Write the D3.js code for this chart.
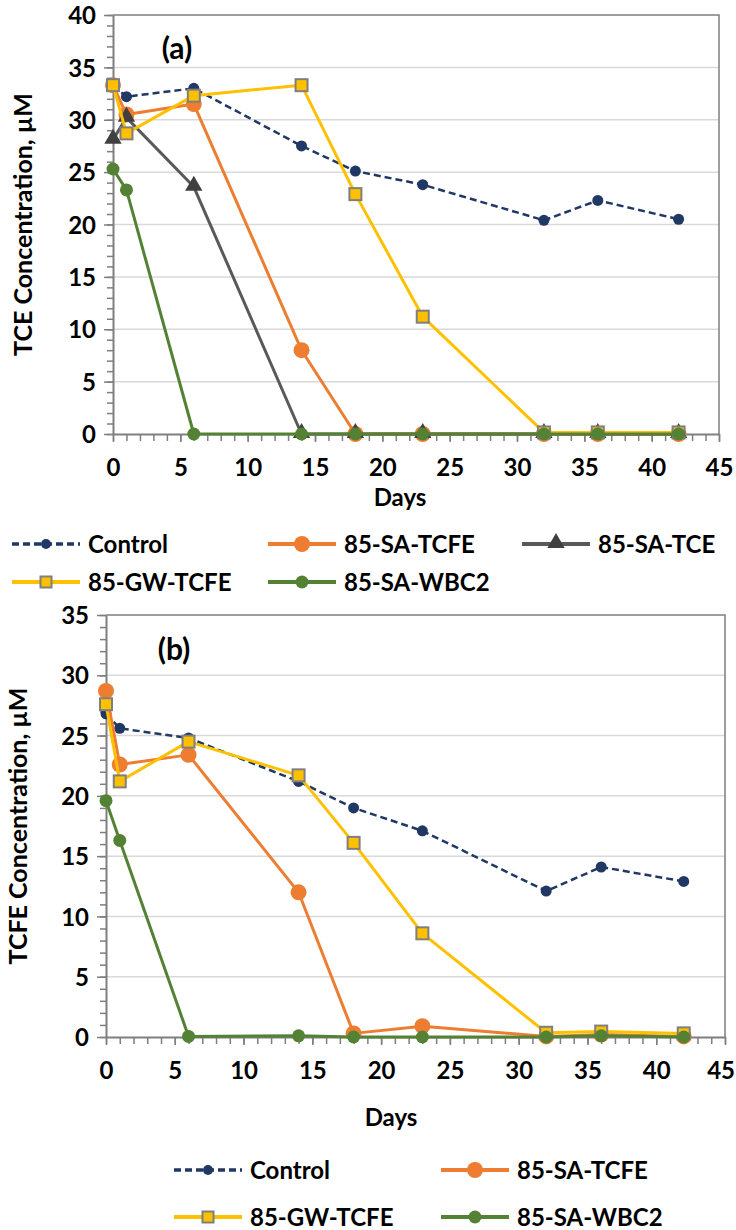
<!DOCTYPE html>
<html>
<head>
<meta charset="utf-8">
<script src="https://cdn.jsdelivr.net/npm/d3@7"></script>
<style>
	body{margin:0;background:#fff}
	svg text{font-family:Lato,"DejaVu Sans",sans-serif;font-weight:bold;fill:#000}
</style>
</head>
<body>
<svg id="chart" width="736" height="1230"></svg>
<script>

// sampling days
let days = [0,1,6,14,18,23,32,36,42]

// (a) TCE concentration, uM
let tceControl = [33.3,32.2,33.0,27.5,25.1,23.8,20.4,22.3,20.5]
let tceSaTcfe = [33.3,30.5,31.5,8.0,0,0,0,0,0]
let tceSaTce = [28.1,30.2,23.6,0,0,0,0,0,0]
let tceGwTcfe = [33.3,28.7,32.3,33.3,22.9,11.2,0.15,0.15,0.15]
let tceWbc2 = [25.3,23.3,0,0,0,0,0,0,0]

// (b) TCFE concentration, uM
let tcfeControl = [26.8,25.6,24.8,21.2,19.0,17.1,12.1,14.1,12.9]
let tcfeSaTcfe = [28.7,22.6,23.4,12.0,0.3,0.9,0.05,0.2,0.05]
let tcfeGwTcfe = [27.6,21.2,24.5,21.7,16.1,8.6,0.35,0.45,0.3]
let tcfeWbc2 = [19.6,16.3,0.05,0.1,0,0,0,0.1,0]

let xTicks = [0,5,10,15,20,25,30,35,40,45]
let yTicksA = [0,5,10,15,20,25,30,35,40]
let yTicksB = [0,5,10,15,20,25,30,35]

// series styles
let styles = {
	'Control':{'colour':'#203864','width':2.5,'dash':'7,4','marker':'circle','r':5.5,'fill':'#203864','stroke':'none'},
	'85-SA-TCFE':{'colour':'#ED7D31','width':3,'dash':null,'marker':'circle','r':8,'fill':'#ED7D31','stroke':'none'},
	'85-SA-TCE':{'colour':'#595959','width':3,'dash':null,'marker':'triangle','r':9,'fill':'#404040','stroke':'none'},
	'85-GW-TCFE':{'colour':'#FFC000','width':3,'dash':null,'marker':'square','r':6,'fill':'#FFC000','stroke':'#7f7f7f'},
	'85-SA-WBC2':{'colour':'#548235','width':3,'dash':null,'marker':'circle','r':6.5,'fill':'#548235','stroke':'none'}
}

let svg = d3.select('#chart')

function drawMarker(g,style,x,y,legend){
	let r = style.r
	if(style.marker=='circle'){
		g.append('circle').attr('cx',x).attr('cy',y).attr('r',legend && r<6 ? 5 : r)
			.attr('fill',style.fill)
	}
	if(style.marker=='triangle'){
		g.append('path')
			.attr('d',d3.symbol().type(d3.symbolTriangle).size(130)())
			.attr('transform','translate('+x+','+(y-1)+')')
			.attr('fill',style.fill)
	}
	if(style.marker=='square'){
		let s = legend ? 11 : 12
		g.append('rect').attr('x',x-s/2).attr('y',y-s/2).attr('width',s).attr('height',s)
			.attr('fill',style.fill).attr('stroke',style.stroke).attr('stroke-width',2)
	}
}

function drawPanel(p){
	let g = svg.append('g')
	let x = d3.scaleLinear().domain([0,45]).range([p.left,p.right])
	let y = d3.scaleLinear().domain([0,p.yMax]).range([p.bottom,p.top])

	// gridlines
	g.selectAll('.grid').data(p.yTicks.filter(function(t){return t>0 && t<p.yMax})).enter()
		.append('line')
		.attr('x1',p.left).attr('x2',p.right)
		.attr('y1',function(d){return y(d)}).attr('y2',function(d){return y(d)})
		.attr('stroke','#d9d9d9').attr('stroke-width',1.5)

	// plot border top/right
	g.append('path')
		.attr('d','M'+p.left+','+p.top+'H'+p.right+'V'+p.bottom)
		.attr('fill','none').attr('stroke','#7f7f7f').attr('stroke-width',1.5)

	// y axis with minor ticks
	let yMinor = d3.range(0,p.yMax+1)
	g.append('g').attr('transform','translate('+p.left+',0)')
		.call(d3.axisLeft(y).tickValues(yMinor).tickSize(6).tickFormat(''))
		.call(function(a){a.select('.domain').remove()})
		.selectAll('line').attr('stroke','#7f7f7f').attr('stroke-width',1.5)
	let ya = g.append('g').attr('transform','translate('+p.left+',0)')
		.call(d3.axisLeft(y).tickValues(p.yTicks).tickSize(9).tickPadding(8).tickSizeOuter(0))
	ya.select('.domain').attr('stroke','#7f7f7f').attr('stroke-width',2)
	ya.selectAll('line').attr('stroke','#7f7f7f').attr('stroke-width',1.5)
	ya.selectAll('text').attr('font-size',24).attr('dy','0.36em').style('font-family','Lato')

	// x axis with minor ticks
	g.append('g').attr('transform','translate(0,'+p.bottom+')')
		.call(d3.axisBottom(x).tickValues(d3.range(0,46)).tickSize(7).tickFormat(''))
		.call(function(a){a.select('.domain').remove()})
		.selectAll('line').attr('stroke','#7f7f7f').attr('stroke-width',1.5)
	let xa = g.append('g').attr('transform','translate(0,'+p.bottom+')')
		.call(d3.axisBottom(x).tickValues(xTicks).tickSize(8).tickPadding(p.xPad).tickSizeOuter(0))
	xa.select('.domain').attr('stroke','#7f7f7f').attr('stroke-width',2)
	xa.selectAll('line').attr('stroke','#7f7f7f').attr('stroke-width',1.5)
	xa.selectAll('text').attr('font-size',24).style('font-family','Lato')
	// keep the last label inside the page
	xa.selectAll('text').each(function(){
		let b = this.getBBox()
		let tx = d3.select(this.parentNode).attr('transform')
		let px = parseFloat(tx.split('(')[1])
		let over = px + b.x + b.width - 735
		if(over>0){d3.select(this).attr('dx',-over)}
	})

	// titles
	g.append('text').attr('x',p.daysX).attr('y',p.daysY).attr('text-anchor','middle')
		.attr('font-size',24).text('Days')
	g.append('text').attr('transform','translate('+p.titleX+','+((p.top+p.bottom)/2)+') rotate(-90)')
		.attr('text-anchor','middle').attr('font-size',25).text(p.yTitle)
	g.append('text').attr('x',p.tagX).attr('y',p.tagY).attr('text-anchor','middle')
		.attr('font-size',30).text(p.tag)

	// series
	let line = d3.line().x(function(d){return x(d[0])}).y(function(d){return y(d[1])})
	p.series.forEach(function(s){
		let st = styles[s.name]
		let pts = days.map(function(d,i){return [d,s.values[i]]})
		let sg = g.append('g')
		sg.append('path').attr('d',line(pts)).attr('fill','none')
			.attr('stroke',st.colour).attr('stroke-width',st.width)
			.attr('stroke-dasharray',st.dash).attr('stroke-linejoin','round')
		pts.forEach(function(d){
			drawMarker(sg,st,x(d[0]),y(d[1]),false)
		})
	})

	// legend
	p.legend.forEach(function(l){
		let st = styles[l.name]
		let lg = g.append('g')
		lg.append('line').attr('x1',l.x).attr('x2',l.x+68).attr('y1',l.y).attr('y2',l.y)
			.attr('stroke',st.colour).attr('stroke-width',st.width+1).attr('stroke-dasharray',st.dash)
		drawMarker(lg,st,l.x+34,l.y,true)
		lg.append('text').attr('x',l.x+76).attr('y',l.y).attr('dy','0.36em')
			.attr('font-size',24).text(l.name)
	})
}

drawPanel({
	'left':113,'right':719,'top':15,'bottom':434,'yMax':40,'yTicks':yTicksA,'xPad':17,
	'daysX':400,'daysY':506,'titleX':32,'yTitle':'TCE Concentration, µM',
	'tag':'(a)','tagX':177,'tagY':59,
	'series':[
		{'name':'Control','values':tceControl},
		{'name':'85-SA-TCFE','values':tceSaTcfe},
		{'name':'85-SA-TCE','values':tceSaTce},
		{'name':'85-GW-TCFE','values':tceGwTcfe},
		{'name':'85-SA-WBC2','values':tceWbc2}
	],
	'legend':[
		{'name':'Control','x':12,'y':544},
		{'name':'85-SA-TCFE','x':268,'y':544},
		{'name':'85-SA-TCE','x':522,'y':544},
		{'name':'85-GW-TCFE','x':12,'y':582},
		{'name':'85-SA-WBC2','x':268,'y':582}
	]
})

drawPanel({
	'left':106,'right':725,'top':615,'bottom':1037,'yMax':35,'yTicks':yTicksB,'xPad':17,
	'daysX':391,'daysY':1126,'titleX':27,'yTitle':'TCFE Concentration, µM',
	'tag':'(b)','tagX':174,'tagY':660,
	'series':[
		{'name':'Control','values':tcfeControl},
		{'name':'85-SA-TCFE','values':tcfeSaTcfe},
		{'name':'85-GW-TCFE','values':tcfeGwTcfe},
		{'name':'85-SA-WBC2','values':tcfeWbc2}
	],
	'legend':[
		{'name':'Control','x':174,'y':1170},
		{'name':'85-SA-TCFE','x':441,'y':1170},
		{'name':'85-GW-TCFE','x':174,'y':1217},
		{'name':'85-SA-WBC2','x':441,'y':1217}
	]
})

</script>
</body>
</html>
